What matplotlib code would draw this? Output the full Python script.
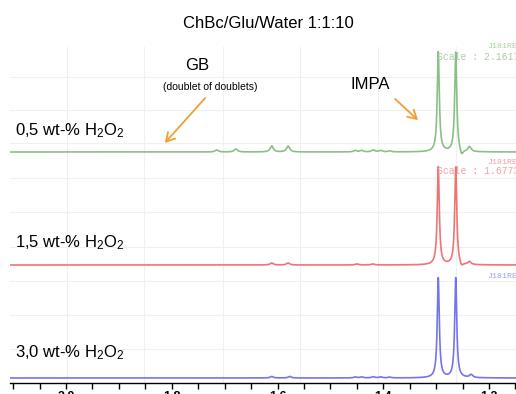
import numpy as np
import matplotlib
matplotlib.use("Agg")
import matplotlib.pyplot as plt
from matplotlib.ticker import MultipleLocator, FormatStrFormatter

plt.rcParams['font.family'] = ['Liberation Sans', 'DejaVu Sans']
plt.rcParams['mathtext.default'] = 'regular'

# ---- data ----
samples = ["0,5 wt-% H$_2$O$_2$", "1,5 wt-% H$_2$O$_2$", "3,0 wt-% H$_2$O$_2$"]
colors = ["#8cbf88", "#f07474", "#7474f0"]
offsets = [231, 118, 5]              # baseline of each trace (display units)
scales = ["Scale : 2.1617", "Scale : 1.6773", ""]

# peak lists: position (ppm), height, half-width (ppm)
pos_green = [1.296, 1.263, 1.252, 1.237, 1.715, 1.679, 1.611, 1.580, 1.453, 1.441, 1.419, 1.405, 1.388]
amp_green = [100, 100, -6, 5, 2, 3, 6, 6, 1.5, 1.5, 2, 1.5, 1]
pos_red = [1.296, 1.263, 1.252, 1.237, 1.611, 1.580, 1.45, 1.42]
amp_red = [98, 98, -4, 3, 2, 2, 1, 1]
pos_blue = [1.296, 1.263, 1.234, 1.611, 1.577, 1.453, 1.441, 1.419, 1.405, 1.388]
amp_blue = [100, 100, 3, 1.5, 1.5, 1, 1, 1.2, 1, 0.8]
main_width = 0.0023
small_width = 0.0035

peak_sets = [(pos_green, amp_green), (pos_red, amp_red), (pos_blue, amp_blue)]

ppm = np.linspace(2.11, 1.14, 6000)


def spectrum(pos, amp):
    y = np.zeros_like(ppm)
    for p, a in zip(pos, amp):
        g = main_width if abs(a) > 50 else small_width
        y += a * g**2 / (g**2 + (ppm - p)**2)
    return y


W, H = 516, 394
fig = plt.figure(figsize=(W / 100, H / 100), dpi=100)
ax = fig.add_axes([10 / W, (H - 383) / H, (W - 10) / W, (383 - 47) / H])

# faint background grid
vgrid = [1.998, 1.852, 1.703, 1.557, 1.410, 1.262]
hgrid = [34, 68, 102, 136, 171, 205, 240, 273, 306]
for v in vgrid:
    ax.axvline(v, color="#f0f0f0", lw=0.8, zorder=0)
for h in hgrid:
    ax.axhline(h, color="#f0f0f0", lw=0.8, zorder=0)

for (pos, amp), c, off in zip(peak_sets, colors, offsets):
    ax.plot(ppm, spectrum(pos, amp) + off, color=c, lw=1.2, zorder=2)

ax.set_xlim(2.106, 1.149)
ax.set_ylim(0, 336)
ax.set_yticks([])
for s in ["left", "right", "top"]:
    ax.spines[s].set_visible(False)
ax.spines["bottom"].set_linewidth(1.0)
ax.xaxis.set_major_locator(MultipleLocator(0.2))
ax.xaxis.set_minor_locator(MultipleLocator(0.05))
ax.xaxis.set_major_formatter(FormatStrFormatter("%.1f"))
ax.tick_params(axis="x", which="both", direction="out", length=4, width=1, pad=2,
               labelsize=9)
for lab in ax.get_xticklabels():
    lab.set_fontweight("bold")

# texts
def fy(y):
    return 1 - y / H

fig.text(268 / W, fy(28), "ChBc/Glu/Water 1:1:10", ha="center", va="baseline", fontsize=12)
label_y = [135, 247, 357]
for s, y in zip(samples, label_y):
    fig.text(15 / W, fy(y), s, ha="left", va="baseline", fontsize=12)

fig.text(197 / W, fy(70), "GB", ha="center", va="baseline", fontsize=12)
fig.text(210 / W, fy(90), "(doublet of doublets)", ha="center", va="baseline", fontsize=7.5)
fig.text(370 / W, fy(89), "IMPA", ha="center", va="baseline", fontsize=12)

orange = "#f0a030"
fig.add_artist(plt.Annotation("", xy=(163, H - 145), xytext=(207, H - 96),
                              xycoords="figure pixels", textcoords="figure pixels",
                              arrowprops=dict(arrowstyle="->,head_length=0.6,head_width=0.35",
                                              color=orange, lw=1.3)))
fig.add_artist(plt.Annotation("", xy=(420, H - 122), xytext=(393, H - 97),
                              xycoords="figure pixels", textcoords="figure pixels",
                              arrowprops=dict(arrowstyle="->,head_length=0.6,head_width=0.35",
                                              color=orange, lw=1.3)))

# instrument labels (clipped by the right edge)
light = ["#a8cfa4", "#f4a0a0", "#a0a0f4"]
jy = [48, 164, 278]
sy = [60, 174, None]
for c, j, s, sc in zip(light, jy, sy, scales):
    fig.text(487 / W, fy(j), "J181RE", ha="left", va="baseline", fontsize=6,
             family="Liberation Mono", color=c)
    if s is not None:
        fig.text(437 / W, fy(s), sc, ha="left", va="baseline", fontsize=7,
                 family="Liberation Mono", color=c)

fig.savefig("out.png", dpi=100)
